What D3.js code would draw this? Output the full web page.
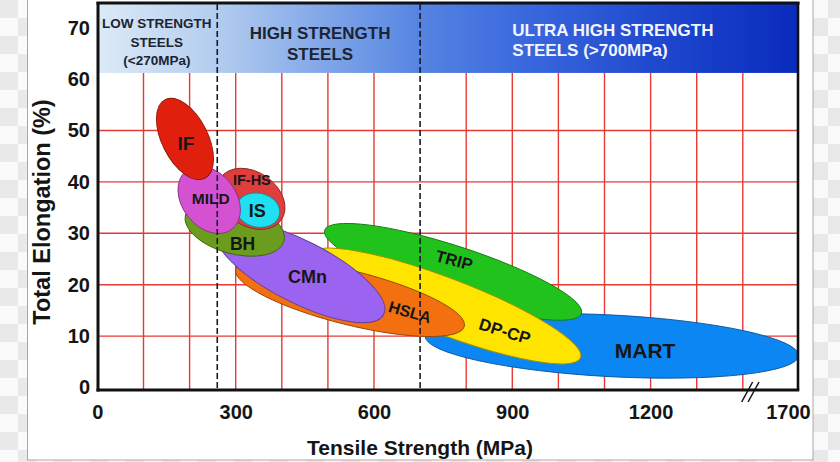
<!DOCTYPE html>
<html><head><meta charset="utf-8">
<script src="https://cdn.jsdelivr.net/npm/d3@7"></script>
<style>
html,body{margin:0;padding:0;background:#fff;}
svg{display:block;font-family:"Liberation Sans",Arial,Helvetica,sans-serif;}
</style>
</head><body>
<svg id="chart" width="840" height="462"></svg>
<script>
// ---------------- DATA ----------------
// steel grades, in drawing order (back to front)
const steelGrades = ["MART","TRIP","DP-CP","HSLA","CMn","BH","IF-HS","IS","MILD","IF"];
// ends of the long axis of each property envelope: Tensile Strength (MPa), Total Elongation (%)
const tipStrengthA   = [711, 493, 460, 300, 258, 191, 267, 302, 193, 147];
const tipElongationA = [10.0, 30.6, 25.9, 23.0, 30.8, 33.6, 40.8, 35.4, 42.2, 56.0];
const tipStrengthB   = [1771, 1050, 1048, 796, 621, 405, 399, 395, 292, 233];
const tipElongationB = [6.2, 14.4, 5.8, 11.9, 14.2, 28.5, 32.6, 33.6, 30.8, 40.7];
// half thickness of each envelope, in elongation %
const halfWidthElongation = [6.0, 5.06, 5.45, 5.25, 6.03, 5.06, 5.25, 3.31, 5.25, 4.47];
// label anchor points (MPa, %)
const labelStrength   = [1188, 774, 884, 678, 456, 315, 335, 347, 246, 192];
const labelElongation = [7.2, 24.8, 11.0, 14.7, 21.5, 28.0, 40.4, 34.4, 36.7, 47.6];

const xTickValues = [0, 300, 600, 900, 1200, 1700];
const yTickValues = [0, 10, 20, 30, 40, 50, 60, 70];
const xGridValues = [100, 200, 300, 400, 500, 600, 800, 900, 1000, 1100, 1200, 1300, 1400];
const yGridValues = [10, 20, 30, 40, 50];
const classBoundaries = [260, 700];           // MPa
const classTitles = [["LOW STRENGTH", "STEELS", "(<270MPa)"],
                     ["HIGH STRENGTH", "STEELS"],
                     ["ULTRA HIGH STRENGTH", "STEELS (>700MPa)"]];
const classAnchorStrength = [129, 483, 900];  // MPa
const bandBottomElongation = 61.2;
const axisBreakStrength = 1450;

// ---------------- STYLE ----------------
const fillColors = {"MART":"#0b86f3","TRIP":"#22c21d","DP-CP":"#ffe400","HSLA":"#f2700f","CMn":"#9a63f0",
  "BH":"#6c9c1e","IF-HS":"#e03d3d","IS":"#1fdff0","MILD":"#d452d2","IF":"#e0200c"};
const labelStyle = {"MART":{size:21,rot:0},"TRIP":{size:16.5,rot:15},"DP-CP":{size:17,rot:17},
  "HSLA":{size:16,rot:16},"CMn":{size:18,rot:0},"BH":{size:17.5,rot:0},"IF-HS":{size:14.5,rot:0},
  "IS":{size:18,rot:0},"MILD":{size:15.5,rot:0},"IF":{size:19,rot:0}};
const classStyle = [{size:13.5, lh:18.5, color:"#1c2433", anchor:"middle", top:28},
                    {size:17, lh:21, color:"#1c2433", anchor:"middle", top:39},
                    {size:17, lh:20, color:"#f3f5ff", anchor:"start", top:36}];

// ---------------- LAYOUT ----------------
const W = 840, H = 462;
const plot = {left: 98, right: 798, top: 4, bottom: 390};
const svg = d3.select("#chart");
const x = d3.scaleLinear().domain([0, 1400, 1700]).range([97.4, 742.8, 788]);
const y = d3.scaleLinear().domain([0, 70]).range([387.5, 27.7]);

const defs = svg.append("defs");
const pat = defs.append("pattern").attr("id","checker").attr("patternUnits","userSpaceOnUse")
  .attr("width",36).attr("height",36);
pat.append("rect").attr("width",36).attr("height",36).attr("fill","#fafafa");
pat.append("rect").attr("width",18).attr("height",18).attr("fill","#e9e9e9");
pat.append("rect").attr("x",18).attr("y",18).attr("width",18).attr("height",18).attr("fill","#e9e9e9");

const grad = defs.append("linearGradient").attr("id","band").attr("x1","0").attr("x2","1").attr("y1","0").attr("y2","0");
[[0,"#dceaf6"],[0.17,"#b3cdef"],[0.46,"#5584e2"],[0.6,"#3b6ade"],[0.82,"#1c45cc"],[1,"#0a2bbd"]]
  .forEach(([o,c]) => grad.append("stop").attr("offset",o).attr("stop-color",c));

defs.append("clipPath").attr("id","plotclip").append("rect")
  .attr("x",plot.left).attr("y",plot.top).attr("width",plot.right-plot.left+1).attr("height",plot.bottom-plot.top);

// background + frame
svg.append("rect").attr("width",W).attr("height",H).attr("fill","url(#checker)");
svg.append("rect").attr("x",27.5).attr("y",-2).attr("width",785.5).attr("height",462)
  .attr("fill","#fff").attr("stroke","#a8a8a8").attr("stroke-width",1);

// grid
const grid = svg.append("g");
grid.selectAll("line.v").data(xGridValues).join("line")
  .attr("x1",d=>x(d)).attr("x2",d=>x(d)).attr("y1",y(bandBottomElongation)).attr("y2",plot.bottom)
  .attr("stroke","#e63a35").attr("stroke-width",1.4);
grid.selectAll("line.h").data(yGridValues).join("line")
  .attr("x1",plot.left).attr("x2",plot.right).attr("y1",d=>y(d)).attr("y2",d=>y(d))
  .attr("stroke","#e63a35").attr("stroke-width",1.4);

// header band
svg.append("rect").attr("x",plot.left).attr("y",plot.top)
  .attr("width",plot.right-plot.left).attr("height",y(bandBottomElongation)-plot.top)
  .attr("fill","url(#band)");

// envelopes
const env = steelGrades.map((g,i) => {
  const x1 = x(tipStrengthA[i]), y1 = y(tipElongationA[i]);
  const x2 = x(tipStrengthB[i]), y2 = y(tipElongationB[i]);
  return {name:g, cx:(x1+x2)/2, cy:(y1+y2)/2, a:Math.hypot(x2-x1,y2-y1)/2,
          ang:Math.atan2(y2-y1,x2-x1)*180/Math.PI, b:y(0)-y(halfWidthElongation[i]),
          lx:x(labelStrength[i]), ly:y(labelElongation[i])};
});
const eg = svg.append("g").attr("clip-path","url(#plotclip)");
eg.selectAll("ellipse").data(env).join("ellipse")
  .attr("transform",d=>`translate(${d.cx},${d.cy}) rotate(${d.ang})`)
  .attr("rx",d=>d.a).attr("ry",d=>d.b)
  .attr("fill",d=>fillColors[d.name])
  .attr("stroke",d=>d3.color(fillColors[d.name]).darker(1.3))
  .attr("stroke-width",0.9);

// class boundaries
svg.selectAll("line.cb").data(classBoundaries).join("line")
  .attr("x1",d=>x(d)).attr("x2",d=>x(d)).attr("y1",plot.top).attr("y2",plot.bottom)
  .attr("stroke","#1a1a2a").attr("stroke-width",1.6).attr("stroke-dasharray","6,3");

// grade labels
svg.append("g").selectAll("text").data(env).join("text")
  .attr("transform",d=>`translate(${d.lx},${d.ly}) rotate(${labelStyle[d.name].rot})`)
  .attr("text-anchor","middle").attr("dy","0.36em")
  .attr("font-weight","bold").attr("font-size",d=>labelStyle[d.name].size)
  .attr("fill","#161616").text(d=>d.name);

// class titles
classTitles.forEach((lines,i) => {
  const st = classStyle[i];
  const t = svg.append("text").attr("font-weight","bold").attr("font-size",st.size)
    .attr("fill",st.color).attr("text-anchor",st.anchor);
  lines.forEach((ln,j) => t.append("tspan").attr("x",x(classAnchorStrength[i]))
    .attr("y",st.top + j*st.lh).text(ln));
});

// borders
svg.append("line").attr("x1",plot.left-1.5).attr("x2",plot.right+1.5).attr("y1",plot.top-1).attr("y2",plot.top-1)
  .attr("stroke","#111").attr("stroke-width",3);
svg.append("line").attr("x1",plot.right).attr("x2",plot.right).attr("y1",plot.top-2).attr("y2",plot.bottom)
  .attr("stroke","#111").attr("stroke-width",2.6);
svg.append("line").attr("x1",plot.left).attr("x2",plot.left).attr("y1",plot.top-2).attr("y2",plot.bottom+1.5)
  .attr("stroke","#111").attr("stroke-width",3);
svg.append("line").attr("x1",plot.left-1.5).attr("x2",plot.right+1.3).attr("y1",plot.bottom).attr("y2",plot.bottom)
  .attr("stroke","#111").attr("stroke-width",3);

// axes (labels only)
const xAxis = svg.append("g").attr("transform",`translate(0,${plot.bottom})`)
  .call(d3.axisBottom(x).tickValues(xTickValues).tickSize(0).tickPadding(15).tickFormat(d3.format("d")));
const yAxis = svg.append("g").attr("transform",`translate(${plot.left},0)`)
  .call(d3.axisLeft(y).tickValues(yTickValues).tickSize(0).tickPadding(8));
[xAxis,yAxis].forEach(a => {
  a.select(".domain").remove();
  a.selectAll("text").attr("font-family","'Liberation Sans',Arial,sans-serif")
    .attr("font-size",20).attr("font-weight","bold").attr("fill","#151515");
});

// axis break
const bx = x(axisBreakStrength);
[-3.2, 3.2].forEach(o => svg.append("line")
  .attr("x1",bx+o-5.5).attr("y1",plot.bottom+12).attr("x2",bx+o+5.5).attr("y2",plot.bottom-8)
  .attr("stroke","#111").attr("stroke-width",1.5));

// axis titles
svg.append("text").attr("x",420).attr("y",455)
  .attr("text-anchor","middle").attr("font-weight","bold").attr("font-size",21).attr("fill","#151515")
  .text("Tensile Strength (MPa)");
svg.append("text").attr("transform",`translate(50,212) rotate(-90)`)
  .attr("text-anchor","middle").attr("font-weight","bold").attr("font-size",23.5).attr("fill","#151515")
  .text("Total Elongation (%)");
</script>
</body></html>
